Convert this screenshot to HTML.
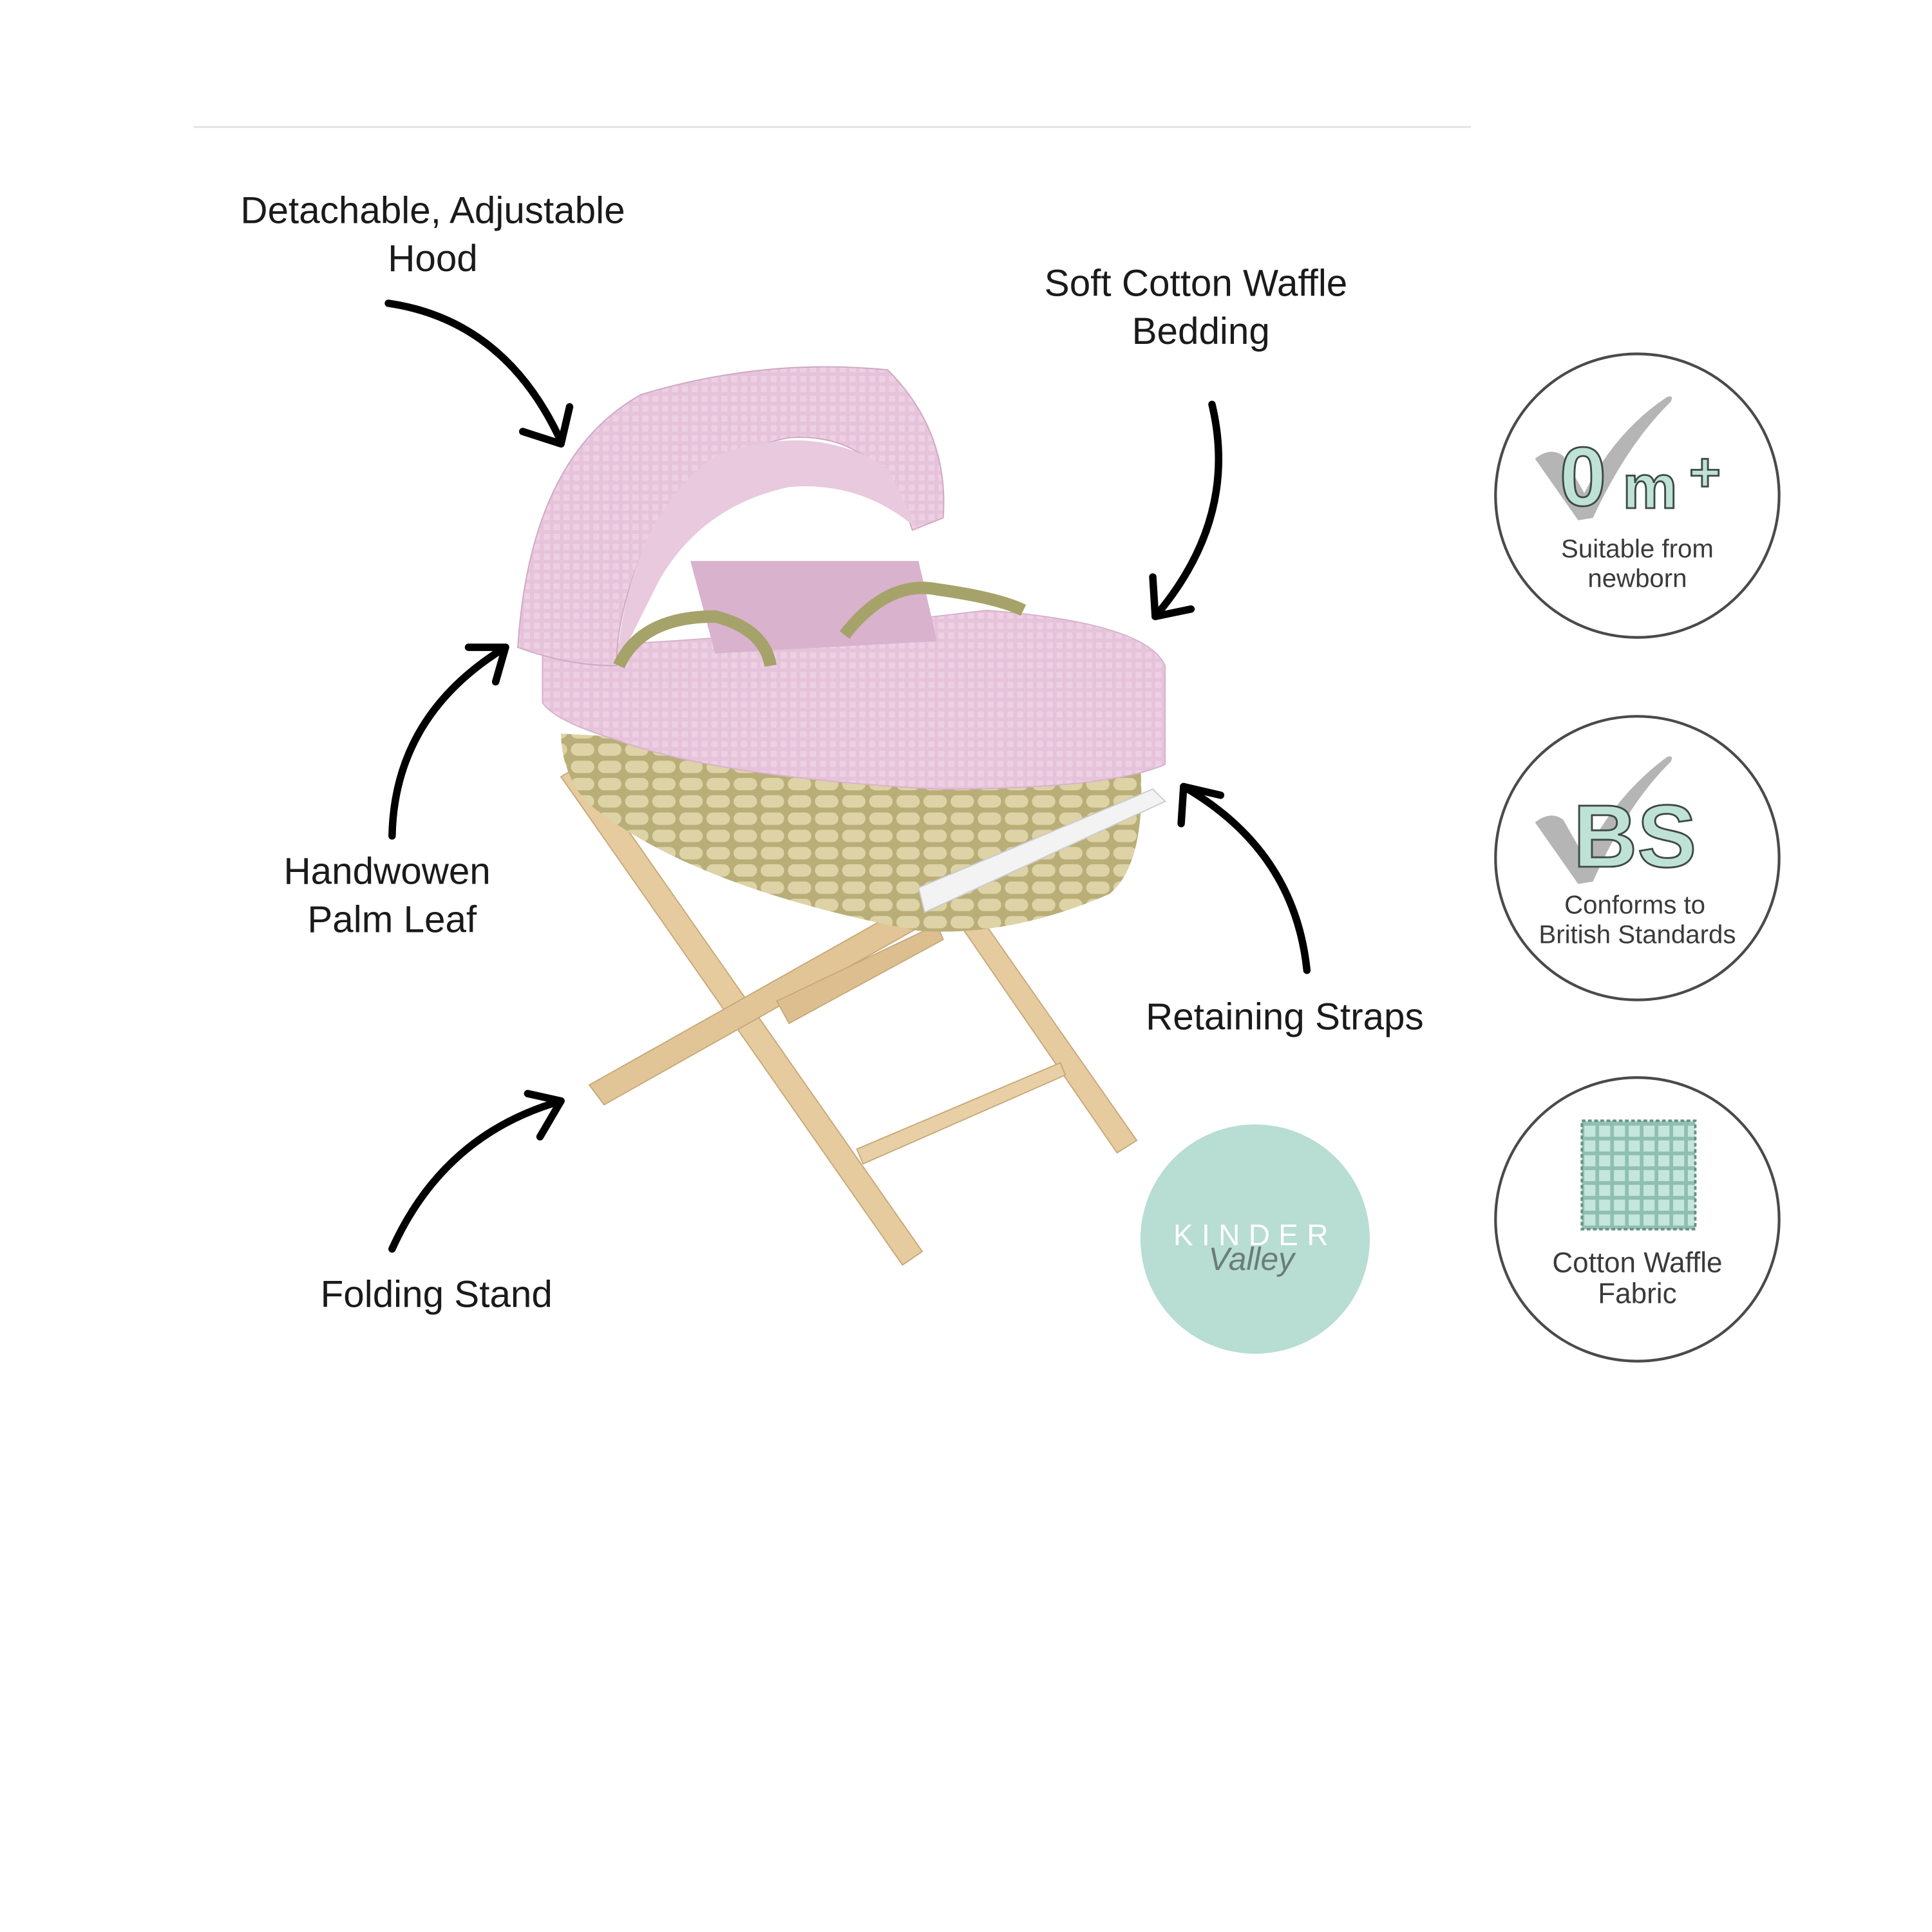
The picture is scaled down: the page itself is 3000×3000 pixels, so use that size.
<!DOCTYPE html>
<html><head><meta charset="utf-8"><style>
html,body{margin:0;padding:0;background:#fff}
svg{display:block}
text{font-family:"Liberation Sans","DejaVu Sans",sans-serif}
</style></head><body>
<svg width="3000" height="3000" viewBox="0 0 1567 1567" xmlns="http://www.w3.org/2000/svg">
<defs>
<pattern id="waf" width="8" height="8" patternUnits="userSpaceOnUse">
<rect width="8" height="8" fill="#e6c3da"/><rect x="1" y="1" width="5" height="5" fill="#edd0e3"/>
</pattern>
<pattern id="weave" width="22" height="14" patternUnits="userSpaceOnUse">
<rect width="22" height="14" fill="#b9ae78"/><rect x="1" y="1" width="19" height="10" rx="5" fill="#ddd3a6"/>
</pattern>
<pattern id="grid" width="12" height="12" patternUnits="userSpaceOnUse">
<rect width="12" height="12" fill="#8fbfb0"/><rect x="1" y="1" width="9" height="9" fill="#c4e6dc"/>
</pattern>
</defs>
<rect width="1567" height="1567" fill="#fff"/>
<line x1="157" y1="103" x2="1193" y2="103" stroke="#e2e2e2" stroke-width="1.5"/>

<g font-size="30.5" fill="#1a1a1a" text-anchor="middle">
<text x="351" y="181">Detachable, Adjustable</text>
<text x="351" y="220">Hood</text>
<text x="970" y="240">Soft Cotton Waffle</text>
<text x="974" y="279">Bedding</text>
<text x="314" y="717">Handwowen</text>
<text x="318" y="756">Palm Leaf</text>
<text x="1042" y="835">Retaining Straps</text>
<text x="354" y="1060">Folding Stand</text>
</g>

<g fill="none" stroke="#000" stroke-width="6" stroke-linecap="round" stroke-linejoin="round">
<path d="M315 246 Q410 260 455 358"/><path d="M424 350 L455 360 L462 330"/>
<path d="M983 328 Q1005 420 937 500"/><path d="M935 468 L937 500 L966 494"/>
<path d="M318 678 Q320 580 410 525"/><path d="M380 525 L410 525 L402 553"/>
<path d="M1060 787 Q1050 690 960 638"/><path d="M958 668 L960 638 L990 645"/>
<path d="M318 1013 Q360 920 455 893"/><path d="M428 887 L455 893 L438 922"/>
</g>

<g stroke="#c9a878" stroke-width="1">
<polygon points="455,630 472,620 748,1015 732,1026" fill="#e6cb9f"/>
<polygon points="478,880 748,728 758,745 490,896" fill="#e2c597"/>
<polygon points="780,752 796,745 922,925 906,935" fill="#e6cb9f"/>
<polygon points="630,812 760,750 765,762 640,830" fill="#ddbf8f"/>
<polygon points="695,932 860,862 864,872 700,944" fill="#e8cfa5"/>
</g>
<path d="M455 595 L925 620 Q930 700 900 725 Q820 760 745 755 Q560 720 475 650 Q455 625 455 595 Z" fill="url(#weave)"/>
<path d="M745 720 L935 640 L945 650 L750 740 Z" fill="#f3f3f3" stroke="#ccc"/>
<path d="M440 525 Q600 520 800 495 Q930 505 945 540 L945 620 Q900 640 760 640 Q580 630 500 600 Q450 585 440 570 Z" fill="url(#waf)" stroke="#d7b2cb"/>
<path d="M560 455 L745 455 L760 520 L580 530 Z" fill="#d9b2cd"/>
<path d="M420 525 Q430 370 520 320 Q620 290 720 300 Q770 350 765 420 L740 430 Q715 350 640 355 Q560 370 520 450 Q500 500 500 540 Q460 540 420 525 Z" fill="url(#waf)" stroke="#cfa8c4"/>
<path d="M500 540 Q510 420 580 370 Q660 340 720 380 L745 430 Q700 390 640 395 Q570 410 535 470 Z" fill="#e9c9de"/>
<path d="M502 540 Q520 500 580 500 Q620 510 625 540" fill="none" stroke="#a6a36a" stroke-width="10"/>
<path d="M685 515 Q720 470 760 478 Q810 485 830 495" fill="none" stroke="#a6a36a" stroke-width="10"/>

<circle cx="1018" cy="1005" r="93" fill="#b8ddd3"/>
<text x="1018" y="1010" font-size="24" fill="#fff" text-anchor="middle" letter-spacing="7">KINDER</text>
<text x="1015" y="1030" font-size="26" fill="#6b7d79" text-anchor="middle" font-style="italic" font-family="Liberation Serif, serif">Valley</text>

<g fill="#fff" stroke="#4a4a4a" stroke-width="2.2">
<circle cx="1328" cy="402" r="115"/>
<circle cx="1328" cy="696" r="115"/>
<circle cx="1328" cy="989" r="115"/>
</g>
<path d="M1245 372 Q1258 362 1268 370 L1285 400 Q1310 350 1352 322 Q1358 320 1355 326 Q1320 360 1292 420 L1280 422 Z" fill="#b5b5b5"/>
<path d="M1245 667 Q1258 657 1268 665 L1285 695 Q1310 645 1352 614 Q1358 612 1355 618 Q1320 652 1292 715 L1280 717 Z" fill="#b5b5b5"/>
<g font-weight="bold" fill="#bfe2d7" stroke="#3e4a47" stroke-width="1.5">
<text x="1265" y="410" font-size="68">0</text>
<text x="1316" y="412" font-size="50">m</text>
<text x="1370" y="398" font-size="44">+</text>
<text x="1276" y="703" font-size="72">BS</text>
</g>
<g font-size="21" fill="#3a3a3a" text-anchor="middle">
<text x="1328" y="452">Suitable from</text>
<text x="1328" y="476">newborn</text>
<text x="1326" y="741">Conforms to</text>
<text x="1328" y="765">British Standards</text>
<text x="1328" y="1032" font-size="23">Cotton Waffle</text>
<text x="1328" y="1057" font-size="23">Fabric</text>
</g>
<rect x="1283" y="909" width="92" height="88" fill="url(#grid)" stroke="#6a8f85" stroke-width="2" stroke-dasharray="3 2"/>
</svg>
</body></html>
